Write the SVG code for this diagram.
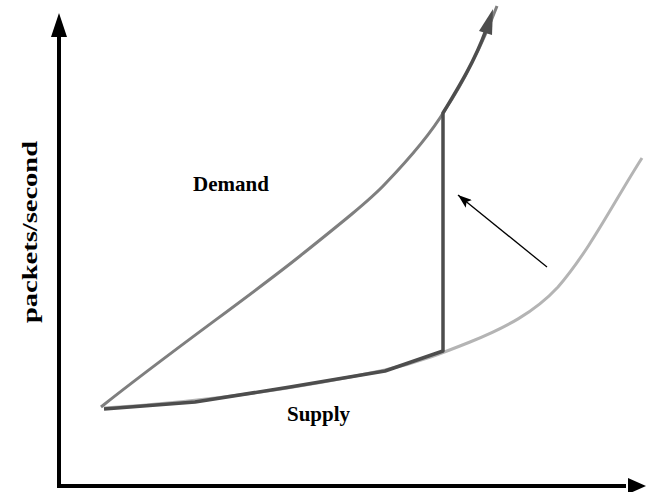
<svg xmlns="http://www.w3.org/2000/svg" width="646" height="492" viewBox="0 0 646 492">
<style>
.lbl{font-family:"Liberation Serif","Times New Roman",serif;font-weight:bold;font-size:21px;fill:#000}
.ax{stroke:#000;stroke-width:4;fill:none}
</style>
<defs>
<marker id="thin" markerUnits="userSpaceOnUse" markerWidth="14" markerHeight="10" refX="14" refY="5" viewBox="0 0 14 10" orient="auto">
<path d="M0,0 L14,5 L0,10 L3,5 Z" fill="#000"/>
</marker>
</defs>
<rect width="646" height="492" fill="#fff"/>
<g id="connectors">
<path id="y-axis" class="ax" d="M59,487 L59,36"/>
<path d="M59,13 L51,37 L67,37 Z" fill="#000"/>
<path id="x-axis" class="ax" d="M57,486 L626,486"/>
<path d="M646,486 L628,478 L628,494 Z" fill="#000"/>
<path id="supply" d="M104,408 C200,402 300,388 385,370 C420,362 445,352 470,342 C505,328 535,312 558,287 C590,250 615,200 642,158" stroke="#b4b4b4" stroke-width="3" fill="none"/>
<path id="demand" d="M101,407 C170,352 250,296 300,256 C340,224 370,200 385,184 C410,158 430,135 445,110 C465,80 480,50 497,6" stroke="#7f7f7f" stroke-width="3" fill="none"/>
<path id="shift" d="M104,409 L195,402 L290,387 L385,371 L443,351 L443,113 C460,85 475,60 486,30" stroke="#4d4d4d" stroke-width="3.5" fill="none" stroke-linejoin="round"/>
<path d="M493,9 L479,31 L492,35 Z" fill="#4d4d4d"/>
<path id="arrow" d="M547,267 L458,195" stroke="#000" stroke-width="1.3" fill="none" marker-end="url(#thin)"/>
</g>
<g id="label-demand"><text class="lbl" x="193" y="191">Demand</text></g>
<g id="label-supply"><text class="lbl" x="287" y="421">Supply</text></g>
<g id="label-y"><text class="lbl" transform="translate(37,232) rotate(-90)" text-anchor="middle" textLength="182" lengthAdjust="spacingAndGlyphs">packets/second</text></g>
</svg>
